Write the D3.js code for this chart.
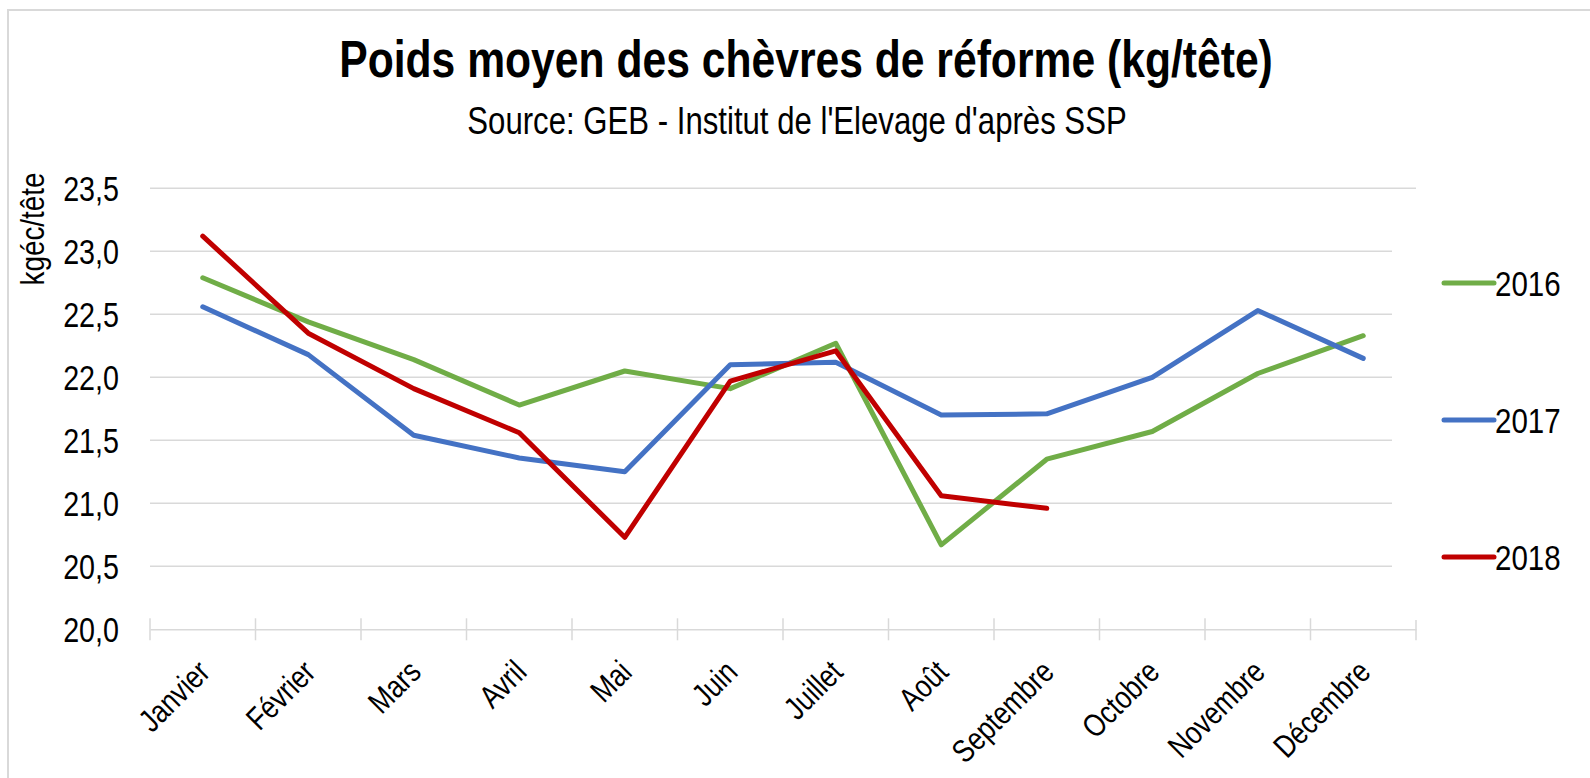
<!DOCTYPE html>
<html>
<head>
<meta charset="utf-8">
<script src="https://cdn.jsdelivr.net/npm/d3@7"></script>
<style>
  body { margin: 0; background: #fff; }
  text { font-family: "Liberation Sans", Arial, sans-serif; fill: #000; }
</style>
</head>
<body>
<div id="chart"></div>
<script>
// months + series
var months = ["Janvier", "Février", "Mars", "Avril", "Mai", "Juin", "Juillet", "Août", "Septembre", "Octobre", "Novembre", "Décembre"];
var years = ["2016", "2017", "2018"];
var v2016 = [22.79, 22.44, 22.14, 21.78, 22.05, 21.91, 22.27, 20.67, 21.35, 21.57, 22.03, 22.33];
var v2017 = [22.56, 22.18, 21.54, 21.36, 21.25, 22.10, 22.12, 21.70, 21.71, 22.00, 22.53, 22.15];
var v2018 = [23.12, 22.35, 21.91, 21.56, 20.73, 21.97, 22.21, 21.06, 20.96];
var yTicks = [20, 20.5, 21, 21.5, 22, 22.5, 23, 23.5];
var colors = ["#70AD47", "#4472C4", "#C00000"];

var width = 1590, height = 778;
var narrow = " scale(0.82,1)"; // no Arial Narrow here, squeeze Liberation Sans

var series = [v2016, v2017, v2018].map(function (vals, i) {
    return { name: years[i], color: colors[i], values: vals.map(function (v, j) { return { m: months[j], v: v }; }) };
});

var svg = d3.select("#chart").append("svg")
    .attr("width", width)
    .attr("height", height);

// outer frame
svg.append("rect")
    .attr("x", 8).attr("y", 10)
    .attr("width", width + 20).attr("height", height + 20)
    .attr("fill", "#fff")
    .attr("stroke", "#D9D9D9")
    .attr("stroke-width", 2);

var x = d3.scalePoint()
    .domain(months)
    .range([150, 1416])
    .padding(0.5);

var y = d3.scaleLinear()
    .domain([20, 23.5])
    .range([629.3, 188.3]);

// title
svg.append("text")
    .attr("transform", "translate(806,77)" + narrow)
    .attr("text-anchor", "middle")
    .style("font-size", "52px")
    .style("font-weight", "bold")
    .text("Poids moyen des chèvres de réforme (kg/tête)");

svg.append("text")
    .attr("transform", "translate(797,134)" + narrow)
    .attr("text-anchor", "middle")
    .style("font-size", "38px")
    .text("Source: GEB - Institut de l'Elevage d'après SSP");

// gridlines
svg.append("g")
    .selectAll("line")
    .data(yTicks.filter(function (t) { return t > 20; }))
    .enter().append("line")
    .attr("x1", 150).attr("x2", 1416)
    .attr("y1", function (d) { return y(d); })
    .attr("y2", function (d) { return y(d); })
    .attr("stroke", "#D9D9D9")
    .attr("stroke-width", 1.5);

// y tick labels
svg.append("g")
    .selectAll("text")
    .data(yTicks)
    .enter().append("text")
    .attr("transform", function (d) { return "translate(119," + y(d) + ")" + narrow; })
    .attr("dy", "0.35em")
    .attr("text-anchor", "end")
    .style("font-size", "35px")
    .text(function (d) { return d3.format(".1f")(d).replace(".", ","); });

svg.append("text")
    .attr("transform", "translate(44,229) rotate(-90)" + narrow)
    .attr("text-anchor", "middle")
    .style("font-size", "34px")
    .text("kgéc/tête");

// x axis
var xAxis = d3.axisBottom(x).tickSize(0).tickFormat("");
var gx = svg.append("g")
    .attr("transform", "translate(0," + y(20) + ")")
    .call(xAxis);
gx.select(".domain").attr("stroke", "#D9D9D9").attr("stroke-width", 1.5);

var step = x.step();
svg.append("g")
    .selectAll("line")
    .data(d3.range(months.length + 1))
    .enter().append("line")
    .attr("x1", function (i) { return 150 + i * step; })
    .attr("x2", function (i) { return 150 + i * step; })
    .attr("y1", y(20) - 11).attr("y2", y(20) + 11)
    .attr("stroke", "#D9D9D9")
    .attr("stroke-width", 1.5);

svg.append("g")
    .selectAll("text")
    .data(months)
    .enter().append("text")
    .attr("transform", function (d) { return "translate(" + (x(d) + 9) + ",674) rotate(-45)" + narrow; })
    .attr("text-anchor", "end")
    .style("font-size", "32px")
    .text(function (d) { return d; });

// legend box covers the gridlines on the right
svg.append("rect")
    .attr("x", 1392).attr("y", 196)
    .attr("width", 190).attr("height", 424)
    .attr("fill", "#fff");

// lines
var line = d3.line()
    .x(function (d) { return x(d.m); })
    .y(function (d) { return y(d.v); });

svg.append("g")
    .selectAll("path")
    .data(series)
    .enter().append("path")
    .attr("d", function (d) { return line(d.values); })
    .attr("fill", "none")
    .attr("stroke", function (d) { return d.color; })
    .attr("stroke-width", 5)
    .attr("stroke-linejoin", "round")
    .attr("stroke-linecap", "round");

// legend
var legY = [283, 420, 557];
var leg = svg.append("g")
    .selectAll("g")
    .data(series)
    .enter().append("g")
    .attr("transform", function (d, i) { return "translate(0," + legY[i] + ")"; });

leg.append("line")
    .attr("x1", 1444).attr("x2", 1494)
    .attr("stroke", function (d) { return d.color; })
    .attr("stroke-width", 5)
    .attr("stroke-linecap", "round");

leg.append("text")
    .attr("transform", "translate(1495,0)" + narrow)
    .attr("dy", "0.36em")
    .style("font-size", "36px")
    .text(function (d) { return d.name; });
</script>
</body>
</html>
